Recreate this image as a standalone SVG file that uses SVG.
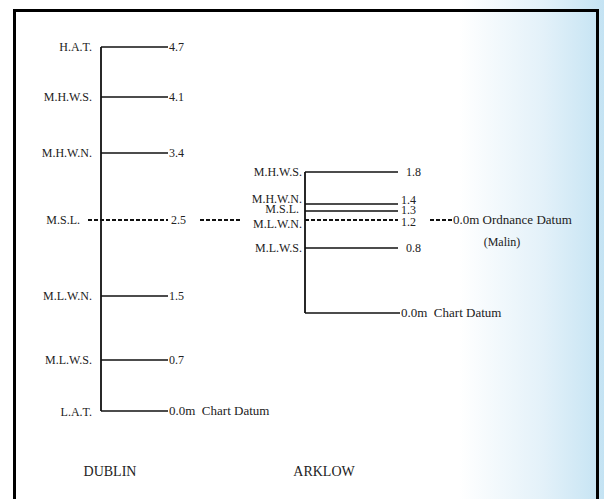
<svg xmlns="http://www.w3.org/2000/svg" width="604" height="499" viewBox="0 0 604 499">
<defs>
<linearGradient id="bg" x1="0" y1="0" x2="1" y2="0">
<stop offset="0" stop-color="#ffffff"/>
<stop offset="0.76" stop-color="#ffffff"/>
<stop offset="0.9" stop-color="#e3f1f9"/>
<stop offset="1" stop-color="#c4e3f3"/>
</linearGradient>
<style>
text{font-family:'Liberation Serif','DejaVu Serif',serif;font-size:12px;fill:#222}
.r{text-anchor:end}
.d{font-size:13px;white-space:pre}
.t{font-size:14px;text-anchor:middle}
.ln{stroke:#111;stroke-width:1.4;fill:none}
.ax{stroke:#111;stroke-width:1.8;fill:none}
.ds{stroke:#111;stroke-width:2.2;stroke-dasharray:4 2;fill:none}
</style>
</defs>
<rect x="0" y="0" width="604" height="499" fill="url(#bg)"/>
<rect x="14.5" y="10.5" width="583" height="500" fill="none" stroke="#000" stroke-width="3"/>
<g id="connectors">
<line class="ax" x1="101" y1="47" x2="101" y2="411"/>
<line class="ln" x1="101" y1="47" x2="168" y2="47"/>
<line class="ln" x1="101" y1="97" x2="168" y2="97"/>
<line class="ln" x1="101" y1="153" x2="168" y2="153"/>
<line class="ds" x1="88" y1="220" x2="168" y2="220"/>
<line class="ds" x1="200" y1="220" x2="242" y2="220"/>
<line class="ln" x1="101" y1="296" x2="168" y2="296"/>
<line class="ln" x1="101" y1="360" x2="168" y2="360"/>
<line class="ln" x1="101" y1="411" x2="168" y2="411"/>
<line class="ax" x1="305" y1="172" x2="305" y2="313"/>
<line class="ln" x1="305" y1="172" x2="398" y2="172"/>
<line class="ln" x1="305" y1="204" x2="398" y2="204"/>
<line class="ln" x1="305" y1="211" x2="398" y2="211"/>
<line class="ds" x1="305" y1="220" x2="398" y2="220"/>
<line class="ln" x1="305" y1="248" x2="398" y2="248"/>
<line class="ln" x1="305" y1="313" x2="400" y2="313"/>
<line class="ds" x1="430" y1="220" x2="453" y2="220"/>
</g>
<g id="dublin">
<text class="r" x="92" y="51">H.A.T.</text>
<text x="169" y="51">4.7</text>
<text class="r" x="92" y="101">M.H.W.S.</text>
<text x="169" y="101">4.1</text>
<text class="r" x="92" y="157">M.H.W.N.</text>
<text x="169" y="157">3.4</text>
<text class="r" x="80" y="224">M.S.L.</text>
<text x="171" y="224">2.5</text>
<text class="r" x="92" y="300">M.L.W.N.</text>
<text x="169" y="300">1.5</text>
<text class="r" x="92" y="364">M.L.W.S.</text>
<text x="169" y="364">0.7</text>
<text class="r" x="92" y="416">L.A.T.</text>
<text class="d" x="169" y="415">0.0m  Chart Datum</text>
<text class="t" x="110" y="476">DUBLIN</text>
</g>
<g id="arklow">
<text class="r" x="302" y="176">M.H.W.S.</text>
<text x="406" y="176">1.8</text>
<text class="r" x="302" y="203">M.H.W.N.</text>
<text x="401" y="204">1.4</text>
<text class="r" x="299" y="213">M.S.L.</text>
<text x="401" y="214">1.3</text>
<text class="r" x="302" y="228">M.L.W.N.</text>
<text x="401" y="226">1.2</text>
<text class="r" x="302" y="252">M.L.W.S.</text>
<text x="406" y="252">0.8</text>
<text class="d" x="401" y="317">0.0m  Chart Datum</text>
<text class="t" x="324" y="476">ARKLOW</text>
</g>
<g id="ordnance">
<text class="d" x="453" y="224">0.0m Ordnance Datum</text>
<text class="t" x="502" y="246" style="font-size:12px">(Malin)</text>
</g>
</svg>
